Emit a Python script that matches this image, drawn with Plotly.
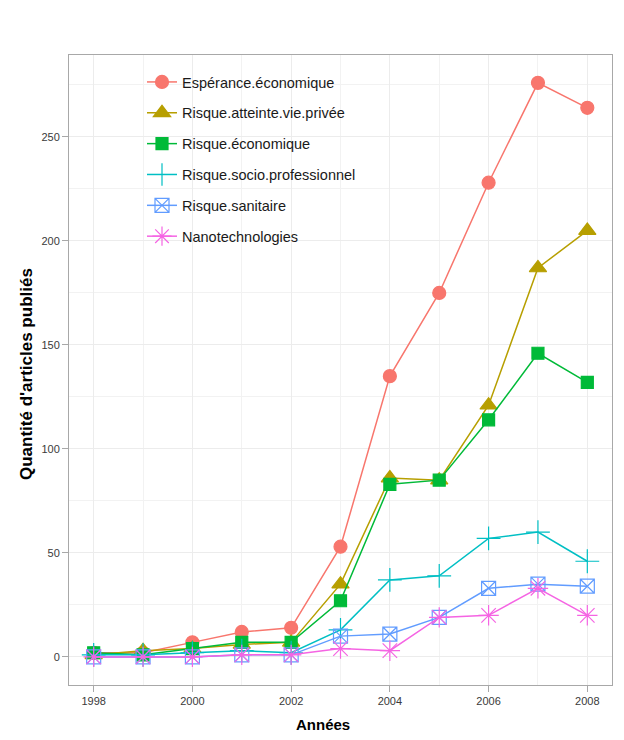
import plotly.graph_objects as go

years = [1998, 1999, 2000, 2001, 2002, 2003, 2004, 2005, 2006, 2007, 2008]
esperance_eco = [2, 2, 7, 12, 14, 53, 135, 175, 228, 276, 264]
risque_vie_privee = [1, 3, 4, 6, 7, 35, 86, 85, 121, 187, 205]
risque_eco = [2, 1, 4, 7, 7, 27, 83, 85, 114, 146, 132]
risque_socio_pro = [1, 1, 2, 3, 2, 13, 37, 39, 57, 60, 46]
risque_sanitaire = [0, 0, 0, 1, 1, 10, 11, 19, 33, 35, 34]
nanotech = [0, 0, 0, 1, 1, 4, 3, 19, 20, 33, 20]

series_names = ["Espérance.économique", "Risque.atteinte.vie.privée", "Risque.économique",
                "Risque.socio.professionnel", "Risque.sanitaire", "Nanotechnologies"]
series_values = [esperance_eco, risque_vie_privee, risque_eco, risque_socio_pro,
                 risque_sanitaire, nanotech]
colors = ["#F8766D", "#B79F00", "#00BA38", "#00BFC4", "#619CFF", "#F564E3"]
symbols = ["circle", "triangle-up", "square", "cross-thin-open", "square-x-open", "asterisk-open"]
sizes = [13, 15, 12, 17, 14, 17]

# page body has an 8px margin; figure coordinates = screen - 8
OFF = 8
W, H = 616, 724
L, R, T, B = 61, 12, 47, 47
pw, ph = W - L - R, H - T - B

def px(sx):
    return (sx - OFF - L) / pw

def py(sy):
    return (H - B - (sy - OFF)) / ph

fig = go.Figure()
for i, (name, vals) in enumerate(zip(series_names, series_values)):
    fig.add_trace(go.Scatter(
        x=years, y=vals, name=name, mode="lines+markers",
        legendgroup=f"g{i}",
        line=dict(color=colors[i], width=1.5),
        marker=dict(symbol=symbols[i], size=sizes[i], color=colors[i],
                    line=dict(color=colors[i], width=1.2)),
    ))

axis_common = dict(
    showline=True, mirror=True, linecolor="#a8a8a8", linewidth=1,
    ticks="outside", ticklen=6, tickcolor="#a8a8a8", tickwidth=1,
    showgrid=True, gridcolor="#ececec", gridwidth=1, zeroline=False,
    tickfont=dict(family="Liberation Sans, Arial, sans-serif", size=11, color="#3a3a3a"),
)

fig.update_layout(
    width=W, height=H,
    margin=dict(l=L, r=R, t=T, b=B, pad=0),
    paper_bgcolor="white", plot_bgcolor="white",
    showlegend=True,
    legend=dict(
        x=px(142), y=py(66), xanchor="left", yanchor="top",
        bgcolor="rgba(0,0,0,0)", traceorder="grouped", tracegroupgap=9,
        font=dict(family="Liberation Sans, Arial, sans-serif", size=14.5, color="#1a1a1a"),
    ),
    xaxis=dict(range=[1997.5, 2008.5], tickmode="linear", tick0=1998, dtick=2,
               minor=dict(dtick=1, showgrid=True, gridcolor="#f2f2f2"), **axis_common),
    yaxis=dict(range=[-13.5, 289.4], tickmode="linear", tick0=0, dtick=50,
               minor=dict(dtick=25, showgrid=True, gridcolor="#f2f2f2"), **axis_common),
    annotations=[
        dict(text="<b>Années</b>", xref="paper", yref="paper", x=px(323), y=py(724),
             showarrow=False, xanchor="center", yanchor="middle",
             font=dict(family="Liberation Sans, Arial, sans-serif", size=15, color="black")),
        dict(text="<b>Quantité d'articles publiés</b>", xref="paper", yref="paper",
             x=px(26), y=py(374), textangle=-90, showarrow=False,
             xanchor="center", yanchor="middle",
             font=dict(family="Liberation Sans, Arial, sans-serif", size=17, color="black")),
    ],
)

fig.write_html("out.html")
